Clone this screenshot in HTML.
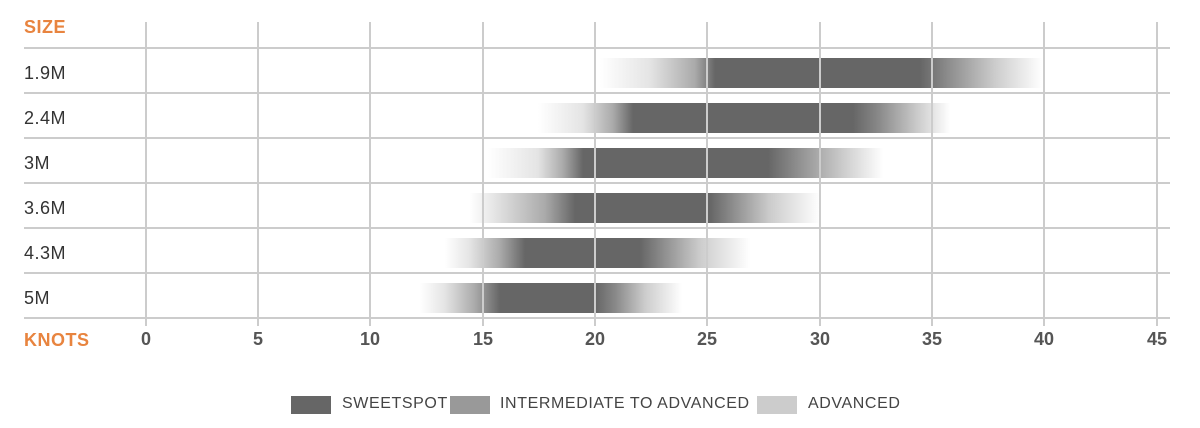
<!DOCTYPE html><html><head><style>
body{margin:0;width:1200px;height:428px;background:#fff;font-family:"Liberation Sans",sans-serif;position:relative;overflow:hidden}
.vl{position:absolute;top:22px;height:304px;width:2px;background:#ccc}
.hl{position:absolute;left:24px;width:1146px;height:2px;background:#ccc}
.lab{position:absolute;left:24px;font-size:18px;color:#333;letter-spacing:0.5px;top:0}
.bar{position:absolute;height:30px}
.tk{position:absolute;top:329px;font-size:18px;font-weight:bold;color:#555;width:40px;text-align:center}
.or{position:absolute;left:24px;font-size:18px;font-weight:bold;color:#e8843f;letter-spacing:0.5px}
.lg{position:absolute;top:396px;width:40px;height:18px}
.lt{position:absolute;top:395px;font-size:16px;color:#444;letter-spacing:0.6px}
</style></head><body>
<div class="or" style="top:17px">SIZE</div>
<div class="or" style="top:330px">KNOTS</div>
<div class="hl" style="top:47px"></div><div class="hl" style="top:92px"></div><div class="hl" style="top:137px"></div><div class="hl" style="top:182px"></div><div class="hl" style="top:227px"></div><div class="hl" style="top:272px"></div><div class="hl" style="top:317px"></div>
<div class="lab" style="top:63px">1.9M</div><div class="lab" style="top:108px">2.4M</div><div class="lab" style="top:153px">3M</div><div class="lab" style="top:198px">3.6M</div><div class="lab" style="top:243px">4.3M</div><div class="lab" style="top:288px">5M</div>
<div class="bar" style="top:58px;left:600px;width:442px;background:linear-gradient(90deg,rgba(255,255,255,0) 0px,#e4e4e4 50px,#aaa 95px,#666 115px,#666 320px,#888 345px,#ccc 395px,rgba(255,255,255,0) 442px)"></div>
<div class="bar" style="top:103px;left:538px;width:412px;background:linear-gradient(90deg,rgba(255,255,255,0) 0px,#e4e4e4 45px,#aaa 75px,#666 95px,#666 315px,#888 340px,#ccc 380px,rgba(255,255,255,0) 412px)"></div>
<div class="bar" style="top:148px;left:488px;width:395px;background:linear-gradient(90deg,rgba(255,255,255,0) 0px,#e4e4e4 50px,#aaa 75px,#666 95px,#666 280px,#888 305px,#ccc 355px,rgba(255,255,255,0) 395px)"></div>
<div class="bar" style="top:193px;left:470px;width:350px;background:linear-gradient(90deg,rgba(255,255,255,0) 0px,#e4e4e4 25px,#aaa 75px,#666 105px,#666 240px,#888 260px,#ccc 300px,rgba(255,255,255,0) 350px)"></div>
<div class="bar" style="top:238px;left:445px;width:305px;background:linear-gradient(90deg,rgba(255,255,255,0) 0px,#e4e4e4 25px,#aaa 55px,#666 80px,#666 195px,#888 215px,#ccc 255px,rgba(255,255,255,0) 305px)"></div>
<div class="bar" style="top:283px;left:420px;width:262px;background:linear-gradient(90deg,rgba(255,255,255,0) 0px,#e4e4e4 25px,#aaa 55px,#666 80px,#666 175px,#888 195px,#ccc 225px,rgba(255,255,255,0) 262px)"></div>
<div class="vl" style="left:145px"></div><div class="vl" style="left:257px"></div><div class="vl" style="left:369px"></div><div class="vl" style="left:482px"></div><div class="vl" style="left:594px"></div><div class="vl" style="left:706px"></div><div class="vl" style="left:819px"></div><div class="vl" style="left:931px"></div><div class="vl" style="left:1043px"></div><div class="vl" style="left:1156px"></div>
<div class="tk" style="left:126px">0</div><div class="tk" style="left:238px">5</div><div class="tk" style="left:350px">10</div><div class="tk" style="left:463px">15</div><div class="tk" style="left:575px">20</div><div class="tk" style="left:687px">25</div><div class="tk" style="left:800px">30</div><div class="tk" style="left:912px">35</div><div class="tk" style="left:1024px">40</div><div class="tk" style="left:1137px">45</div>
<div class="lg" style="left:291px;background:#666"></div><div class="lt" style="left:342px">SWEETSPOT</div>
<div class="lg" style="left:450px;background:#999"></div><div class="lt" style="left:500px">INTERMEDIATE TO ADVANCED</div>
<div class="lg" style="left:757px;background:#ccc"></div><div class="lt" style="left:808px">ADVANCED</div>
</body></html>
